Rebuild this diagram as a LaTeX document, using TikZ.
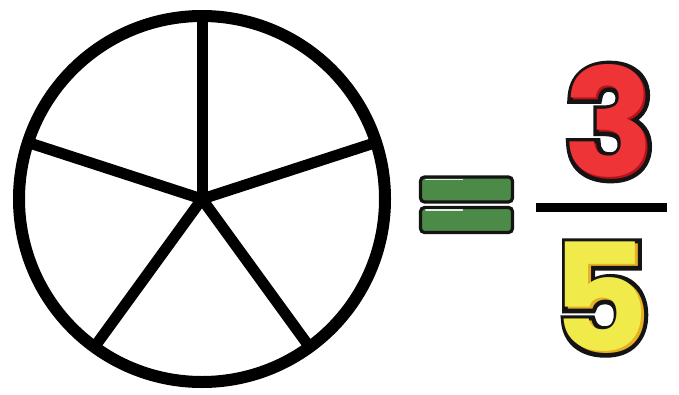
\documentclass[tikz,border=0pt]{standalone}
\usepackage{fontspec}
\usepackage{xcolor}
\newfontfamily\digitfont{Poppins}
\newfontfamily\digitrim{Poppins}[FakeBold=6.5]
\usetikzlibrary{calc}

\definecolor{inkblack}{HTML}{141414}
\definecolor{eqgreen}{HTML}{4C8A48}
\definecolor{redmain}{HTML}{EE3437}
\definecolor{redshade}{HTML}{B5121B}
\definecolor{yelmain}{HTML}{F1EA4B}
\definecolor{yelshade}{HTML}{E6B022}

% outlined, glossy digit: name, position, digit, main colour, shade colour
\newcommand{\fatdigit}[5]{%
  \node[digit, font=\digitrim\bfseries\fontsize{150}{150}\selectfont, text=inkblack]
    at ($(#2)+(-1,-1)$) {#3};
  \node[digit, text=#5] at (#2) {#3};
  \node[digit, text=#4] (#1) at ($(#2)+(-2.4,-2.4)$) {#3};
}

\begin{document}
\begin{tikzpicture}[
  x=1pt, y=-1pt,
  rim/.style={line width=12pt, black},
  spoke/.style={line width=11pt, black, line cap=round},
  eqbar/.style={draw=inkblack, line width=3.2pt, fill=eqgreen, rounded corners=4pt,
    minimum width=92pt, minimum height=25pt, inner sep=0pt},
  gloss/.style={white, line width=1.4pt, line cap=round, opacity=0.85},
  digit/.style={inner sep=0pt, font=\digitfont\bfseries\fontsize{150}{150}\selectfont},
  fracline/.style={line width=9pt, black},
]
\useasboundingbox (0,0) rectangle (679,394);

% the circle cut into five equal parts
\coordinate (O) at (202,199);
\draw[rim] (O) circle (183);
\foreach \ang in {-90,-18,54,126,-162}
  \draw[spoke] (O) -- ($(O)+(\ang:178)$);

% equals sign
\node[eqbar] (EqTop) at (466.5,189.5) {};
\node[eqbar] (EqBot) at (466.5,220) {};
\draw[gloss] ($(EqTop.north west)+(7,4)$) -- ($(EqTop.north)+(-4,4)$);
\draw[gloss] ($(EqBot.north west)+(7,4)$) -- ($(EqBot.north)+(-4,4)$);

% fraction 3/5
\fatdigit{Num}{611,123}{3}{redmain}{redshade}
\fatdigit{Den}{603,299}{5}{yelmain}{yelshade}
\coordinate (BarL) at (536,207.5);
\coordinate (BarR) at (667,207.5);
\draw[fracline] (BarL) -- (BarR);
\end{tikzpicture}
\end{document}
